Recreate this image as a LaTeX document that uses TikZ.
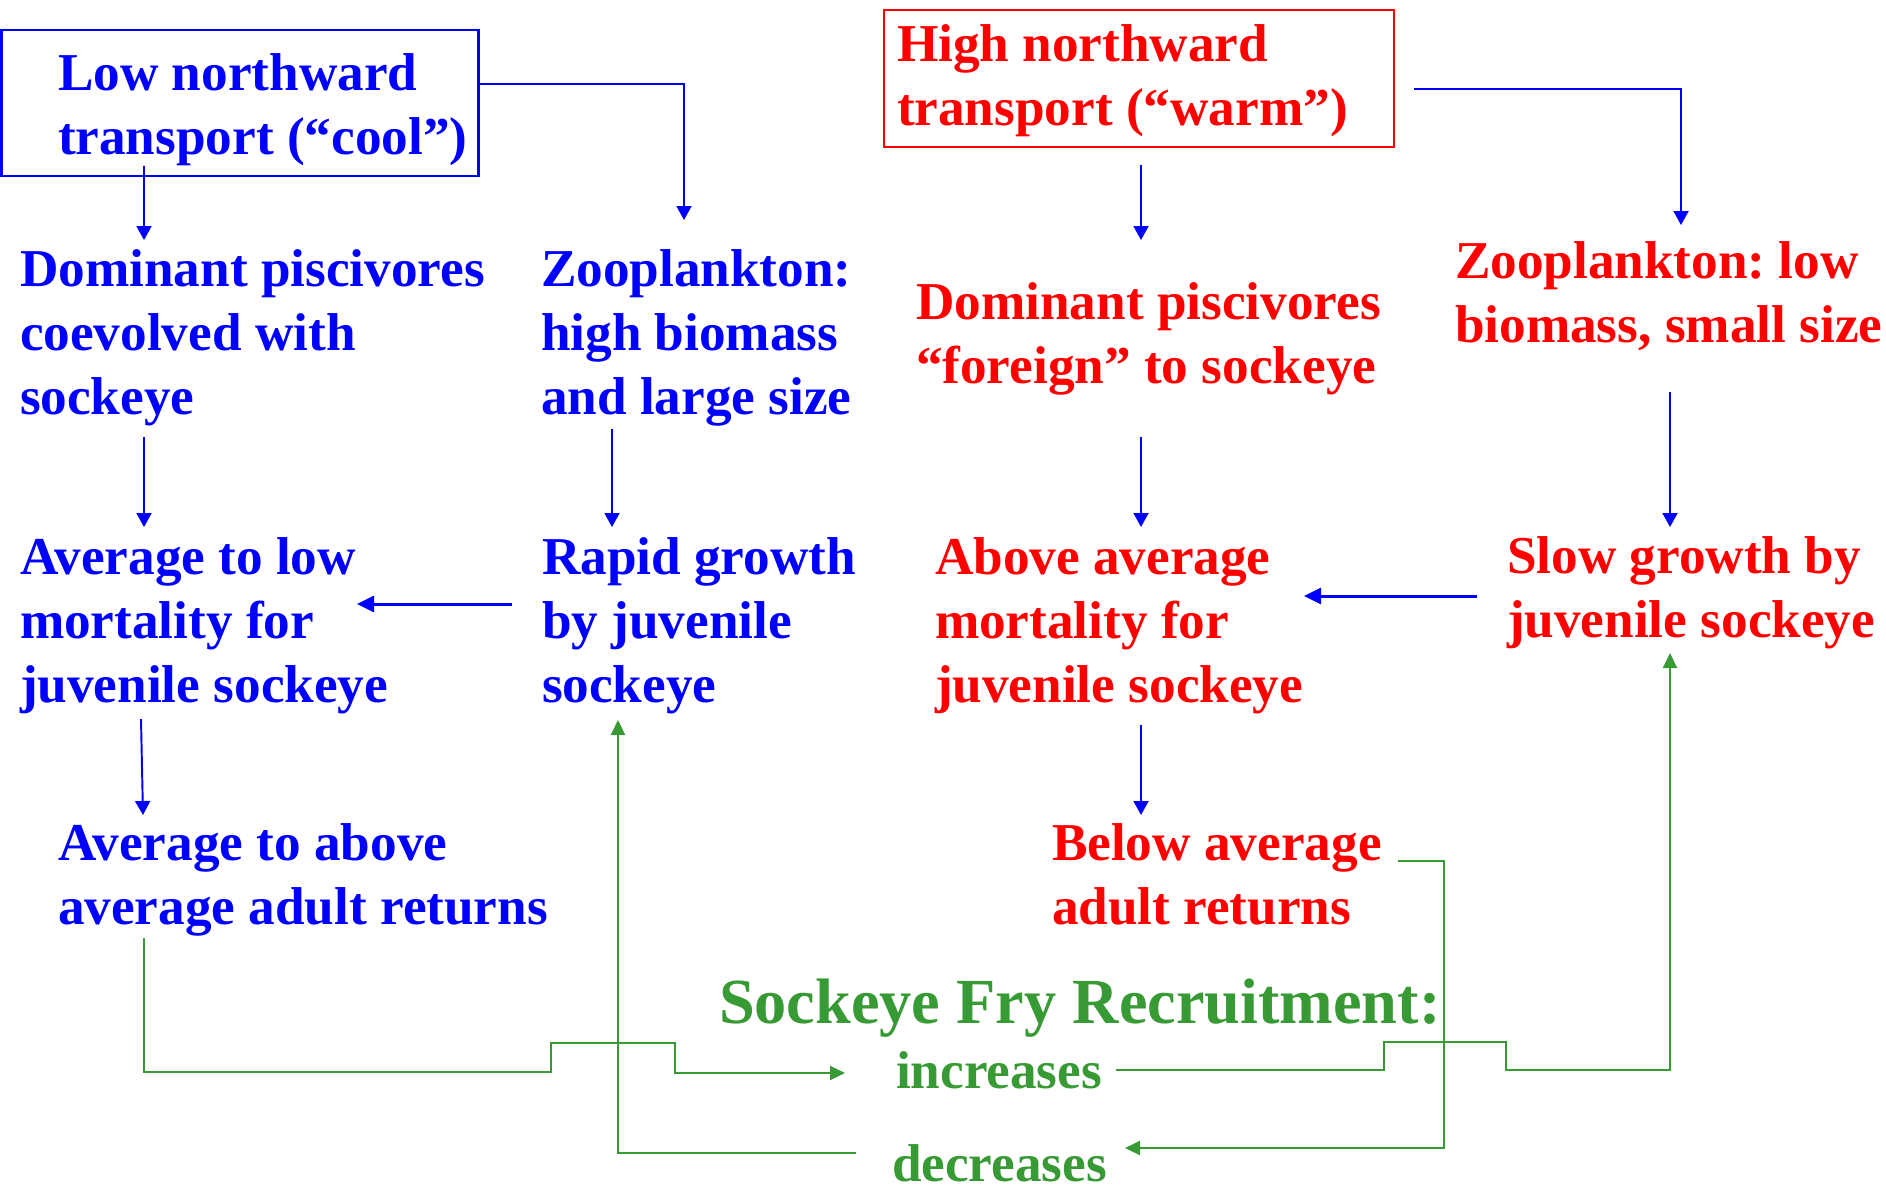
\documentclass[tikz,border=0pt]{standalone}
\usepackage{fontspec}
\setmainfont{Liberation Serif}
\frenchspacing
\usetikzlibrary{arrows.meta}
\definecolor{coolblue}{RGB}{0,0,255}
\definecolor{warmred}{RGB}{255,0,0}
\definecolor{frygreen}{RGB}{56,154,52}

\begin{document}
\begin{tikzpicture}[x=0.02cm, y=-0.02cm,
    every node/.style={inner sep=0pt, outer sep=0pt, align=left, anchor=base west,
      font=\bfseries\fontsize{30.3}{36.2}\selectfont},
    cool/.style={text=coolblue},
    warm/.style={text=warmred},
    link/.style={draw=coolblue, line width=1.1pt, -{Triangle[length=0.28cm, width=0.3cm]}},
    thicklink/.style={link, line width=1.7pt, -{Triangle[length=0.34cm, width=0.32cm]}},
    fryline/.style={draw=frygreen, line width=1.2pt, -{Triangle[length=0.3cm, width=0.28cm]}}]
  %tikz  sockeye recruitment, cool vs warm years (nodes sit on their last baseline)
  \useasboundingbox (0,0) rectangle (1886,1188);

  \node[draw=coolblue, line width=1.6pt, anchor=north west, minimum width=9.54cm, minimum height=2.92cm] (lowbox) at (1.5,30) {};
  \node[draw=warmred, line width=1.6pt, anchor=north west, minimum width=10.2cm, minimum height=2.74cm] (highbox) at (884,10) {};
  \node[cool] (lowtxt) at (58,154) {Low northward\\transport (“cool”)};
  \node[warm] (hightxt) at (897,125) {High northward\\transport (“warm”)};

  \node[cool] (dompisc) at (20,414) {Dominant piscivores\\coevolved with\\sockeye};
  \node[cool] (zoohigh) at (541,414) {Zooplankton:\\high biomass\\and large size};
  \node[warm] (domforeign) at (916,383) {Dominant piscivores\\“foreign” to sockeye};
  \node[warm] (zoolow) at (1455,342) {Zooplankton: low\\biomass, small size};

  \node[cool] (lowmort) at (20,702) {Average to low\\mortality for\\juvenile sockeye};
  \node[cool] (rapid) at (542,702) {Rapid growth\\by juvenile\\sockeye};
  \node[warm] (highmort) at (935,702) {Above average\\mortality for\\juvenile sockeye};
  \node[warm] (slow) at (1507,637) {Slow growth by\\juvenile sockeye};

  \node[cool] (goodret) at (58,924) {Average to above\\average adult returns};
  \node[warm] (poorret) at (1052,924) {Below average\\adult returns};

  \node[text=frygreen, font=\bfseries\fontsize{36.6}{43}\selectfont] (fry) at (719,1023) {Sockeye Fry Recruitment:};
  \node[text=frygreen] (incr) at (896,1088) {increases};
  \node[text=frygreen] (decr) at (892,1181) {decreases};

  \draw[link] ([shift={(142.5,-10)}]lowbox.south west) -- ([shift={(124,-174)}]dompisc.base west);
  \draw[link] ([shift={(0,54)}]lowbox.north east) -| ([shift={(143,-194)}]zoohigh.base west);
  \draw[link] ([shift={(257,18)}]highbox.south west) -- ([shift={(225,-143)}]domforeign.base west);
  \draw[link] ([shift={(20,79)}]highbox.north east) -| ([shift={(226,-117)}]zoolow.base west);
  \draw[link] ([shift={(124,23)}]dompisc.base west) -- ([shift={(124,-175)}]lowmort.base west);
  \draw[link] ([shift={(71,15)}]zoohigh.base west) -- ([shift={(70,-175)}]rapid.base west);
  \draw[link] ([shift={(225,54)}]domforeign.base west) -- ([shift={(206,-175)}]highmort.base west);
  \draw[link] ([shift={(215,50)}]zoolow.base west) -- ([shift={(163,-110)}]slow.base west);
  \draw[thicklink] ([shift={(-30,-98)}]rapid.base west) -- ([shift={(337,-98)}]lowmort.base west);
  \draw[thicklink] ([shift={(-30,-41)}]slow.base west) -- ([shift={(369,-106)}]highmort.base west);
  \draw[link] ([shift={(121,17)}]lowmort.base west) -- ([shift={(85,-109)}]goodret.base west);
  \draw[link] ([shift={(206,23)}]highmort.base west) -- ([shift={(89,-109)}]poorret.base west);

  \draw[fryline] ([shift={(86,14)}]goodret.base west) -- ++(0,134) -- ++(407,0) -- ++(0,-29) -- ++(124,0) -- ++(0,30) -- ([shift={(-51,-15)}]incr.base west);
  \draw[fryline] ([shift={(-36,-28)}]decr.base west) -| ([shift={(76,18)}]rapid.base west);
  \draw[fryline] ([shift={(346,-63)}]poorret.base west) -- ++(46,0) |- ([shift={(233,-33)}]decr.base west);
  \draw[fryline] ([shift={(220,-18)}]incr.base west) -- ++(268,0) -- ++(0,-28) -- ++(122,0) -- ++(0,28) -| ([shift={(163,16)}]slow.base west);
\end{tikzpicture}
\end{document}
